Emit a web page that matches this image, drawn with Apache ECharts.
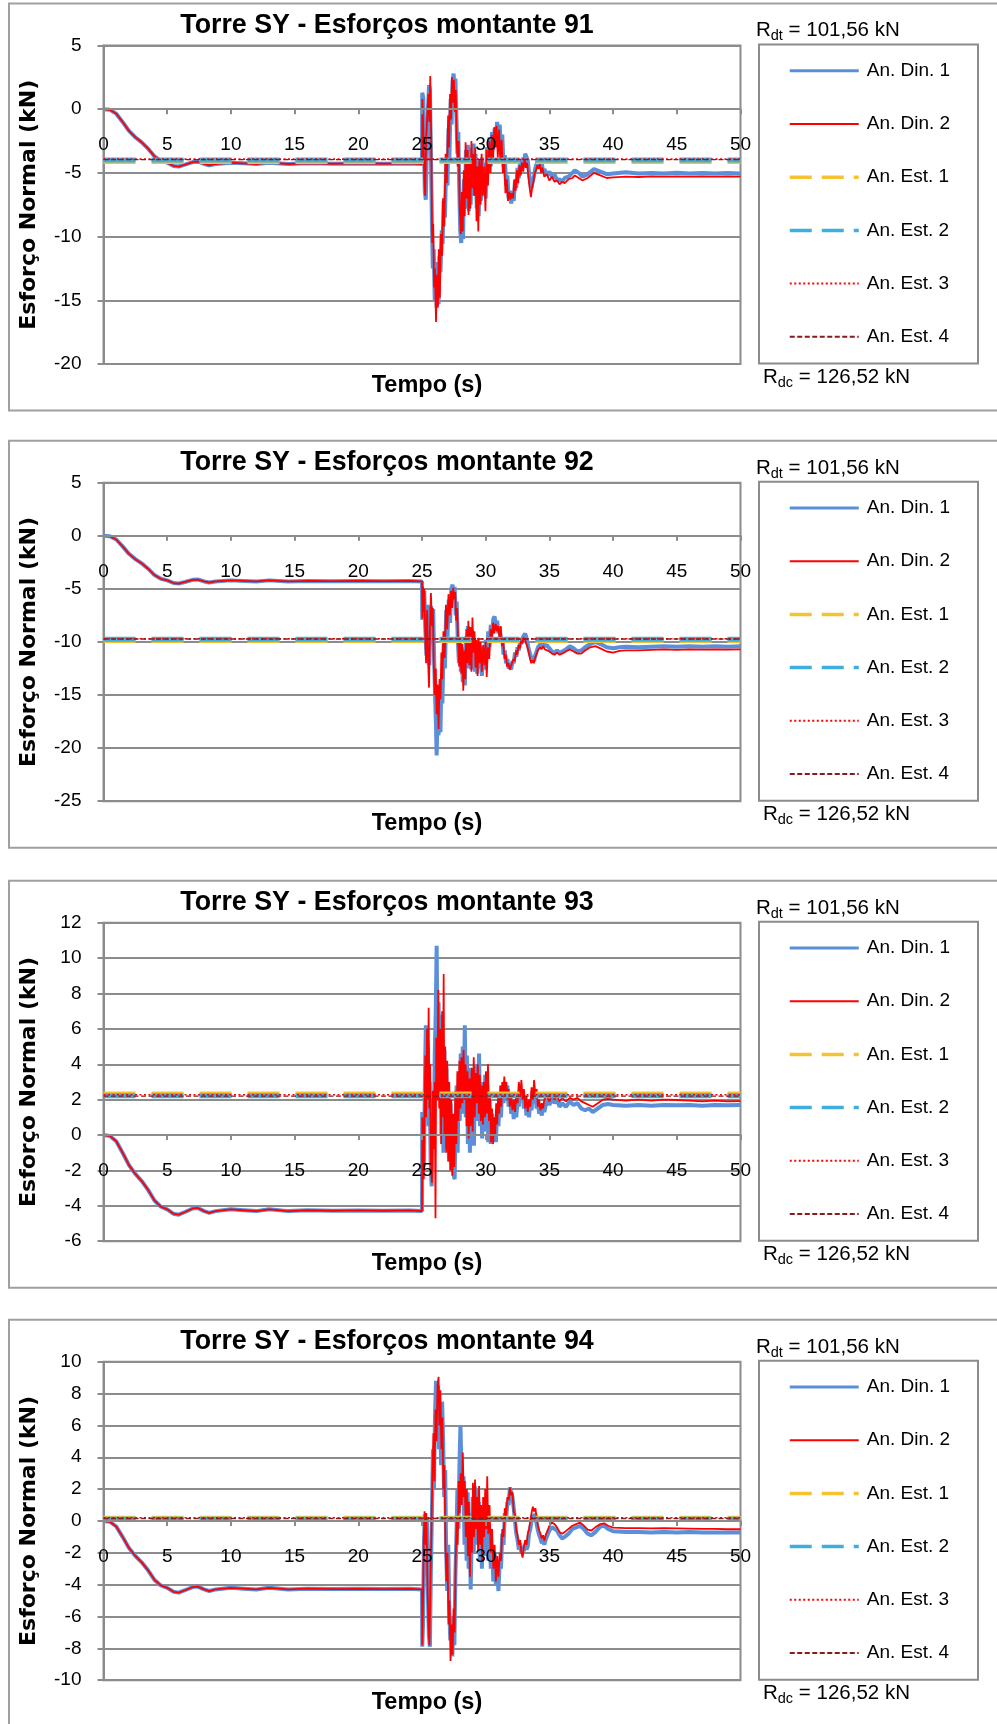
<!DOCTYPE html>
<html>
<head>
<meta charset="utf-8">
<script src="https://cdn.jsdelivr.net/npm/echarts@6/dist/echarts.min.js"></script>
<style>
html,body{margin:0;padding:0;background:#fff;}
#chart{width:997px;height:1724px;}
</style>
</head>
<body>
<div id="chart"></div>
<script>
// Normal force in tower SY legs 91-94: time (s) vs axial force (kN)
const seriesNames = ['An. Din. 1', 'An. Din. 2', 'An. Est. 1', 'An. Est. 2', 'An. Est. 3', 'An. Est. 4'];
const panelTitles = ['Torre SY - Esforços montante 91', 'Torre SY - Esforços montante 92',
                     'Torre SY - Esforços montante 93', 'Torre SY - Esforços montante 94'];
const xAxisTitle = 'Tempo (s)';
const yAxisTitle = 'Esforço Normal (kN)';
const rdtLabel = ['R', 'dt', ' = 101,56 kN'];
const rdcLabel = ['R', 'dc', ' = 126,52 kN'];
// [min, max, step] of each vertical axis, and of the time axis
const yRanges = [[-20, 5, 5], [-25, 5, 5], [-6, 12, 2], [-10, 10, 2]];
const xRange = [0, 50, 5];

// self-weight loading phase, identical in the four legs (0-25 s)
const preEvent = [[0,0],[0.5,-0.05],[1,-0.35],[1.5,-1.0],[2,-1.7],[2.5,-2.2],[3,-2.6],[3.5,-3.1],[4,-3.7],
  [4.5,-4.05],[5,-4.2],[5.5,-4.45],[5.9,-4.5],[6.4,-4.35],[7,-4.15],[7.4,-4.12],[7.9,-4.3],[8.3,-4.4],
  [8.8,-4.3],[10,-4.2],[11,-4.25],[12,-4.3],[13,-4.2],[14.5,-4.3],[16,-4.25],[18,-4.28],[20,-4.26],
  [22,-4.28],[24,-4.26],[25,-4.3]];

// leg 91
const m91Din1 = [[25.02,1.3],[25.1,0.9],[25.15,-2.5],[25.22,-6.5],[25.3,-7.1],[25.38,-3.0],[25.45,-0.5],[25.55,1.9],
  [25.62,1.5],[25.7,-3.5],[25.78,-9.0],[25.85,-12.5],[25.92,-11.0],[26.0,-15.0],[26.08,-13.5],[26.15,-15.6],
  [26.22,-12.0],[26.3,-15.3],[26.38,-11.5],[26.45,-12.8],[26.55,-9.5],[26.62,-10.6],[26.7,-7.2],[26.8,-8.5],
  [26.9,-4.2],[27.0,-6.0],[27.08,-1.5],[27.15,-3.8],[27.25,0.8],[27.32,-1.2],[27.4,2.2],[27.48,2.8],[27.55,1.6],
  [27.62,2.4],[27.7,-0.5],[27.78,-3.5],[27.85,-1.8],[27.92,-6.0],[28.0,-9.5],[28.08,-10.5],[28.15,-8.0],
  [28.22,-10.2],[28.3,-5.5],[28.38,-7.8],[28.45,-3.2],[28.52,-6.5],[28.6,-2.8],[28.68,-8.0],[28.75,-4.5],
  [28.82,-7.5],[28.9,-3.0],[28.98,-6.8],[29.05,-2.7],[29.12,-5.5],[29.2,-3.5],[29.3,-7.8],[29.38,-4.0],
  [29.45,-8.4],[29.55,-5.0],[29.62,-7.2],[29.7,-3.8],[29.8,-6.5],[29.9,-4.2],[30.0,-7.0],[30.1,-3.0],[30.2,-5.0],
  [30.3,-2.2],[30.4,-4.5],[30.5,-1.8],[30.6,-3.2],[30.7,-1.5],[30.8,-2.2],[30.9,-1.0],[31.0,-2.5],[31.1,-1.2],
  [31.2,-3.5],[31.3,-2.0],[31.4,-4.5],[31.5,-3.6],[31.6,-6.0],[31.7,-5.2],[31.8,-7.0],[31.9,-6.4],[32.0,-7.4],
  [32.1,-6.8],[32.2,-7.2],[32.3,-5.6],[32.4,-6.2],[32.5,-4.6],[32.6,-5.4],[32.7,-4.0],[32.8,-4.8],[32.9,-3.8],
  [33.0,-4.2],[33.1,-3.5],[33.2,-3.4],[33.3,-4.0],[33.4,-5.0],[33.5,-5.8],[33.6,-6.2],[33.7,-5.6],[33.8,-5.2],
  [33.9,-4.6],[34.0,-4.3],[34.1,-4.0],[34.2,-4.1],[34.3,-4.6],[34.4,-4.2],[34.5,-4.9],[34.6,-4.7],[34.8,-5.2],
  [35.0,-4.9],[35.2,-5.3],[35.4,-5.1],[35.6,-5.6],[35.8,-5.5],[36.0,-5.7],[36.2,-5.4],[36.5,-5.3],[36.8,-5.0],
  [37.0,-4.8],[37.3,-5.0],[37.6,-5.3],[38.0,-5.1],[38.5,-4.7],[39.0,-4.9],[39.5,-5.1],[40,-5.05],[41,-4.95],
  [42,-5.05],[43,-5.0],[44,-5.05],[45,-4.98],[46,-5.05],[47,-5.0],[48,-5.05],[49,-5.0],[50,-5.05]];
const m91Din2 = [[25.03,0.8],[25.1,-1.5],[25.18,-5.5],[25.25,-6.8],[25.32,-2.5],[25.4,-0.8],[25.5,1.2],[25.58,-1.0],
  [25.65,2.6],[25.72,-2.0],[25.8,-10.5],[25.88,-9.0],[25.95,-14.0],[26.02,-12.5],[26.1,-16.7],[26.18,-13.0],
  [26.25,-15.5],[26.32,-11.0],[26.4,-14.8],[26.48,-9.8],[26.58,-11.5],[26.65,-7.0],[26.75,-9.2],[26.85,-3.5],
  [26.95,-5.8],[27.05,-0.5],[27.12,-3.0],[27.2,1.2],[27.28,-0.8],[27.35,2.5],[27.42,0.5],[27.5,2.3],[27.58,-0.2],
  [27.65,1.5],[27.72,-2.2],[27.8,-4.5],[27.88,-2.5],[27.95,-7.5],[28.05,-9.8],[28.12,-6.5],[28.2,-9.6],
  [28.28,-4.8],[28.35,-8.4],[28.42,-2.6],[28.5,-7.0],[28.58,-3.2],[28.65,-8.3],[28.72,-3.8],[28.8,-7.8],
  [28.88,-2.5],[28.95,-6.2],[29.02,-3.5],[29.1,-6.8],[29.18,-3.0],[29.28,-8.8],[29.35,-4.5],[29.42,-9.6],
  [29.5,-4.0],[29.6,-7.5],[29.68,-3.5],[29.78,-6.8],[29.88,-4.5],[29.98,-8.0],[30.08,-3.2],[30.18,-6.0],
  [30.28,-2.5],[30.38,-5.0],[30.48,-2.0],[30.58,-4.0],[30.68,-1.4],[30.78,-3.0],[30.85,-1.3],[30.95,-3.8],
  [31.05,-1.6],[31.15,-4.2],[31.25,-2.4],[31.35,-5.0],[31.45,-4.0],[31.55,-6.6],[31.65,-5.5],[31.75,-7.2],
  [31.85,-6.5],[31.95,-7.1],[32.05,-6.6],[32.15,-7.0],[32.25,-5.5],[32.35,-6.4],[32.45,-4.8],[32.55,-5.8],
  [32.65,-4.4],[32.75,-5.2],[32.85,-4.2],[32.95,-4.9],[33.05,-3.9],[33.15,-4.6],[33.25,-4.2],[33.35,-5.3],
  [33.45,-6.2],[33.55,-6.9],[33.65,-6.1],[33.75,-5.7],[33.85,-5.0],[33.95,-4.8],[34.05,-4.4],[34.15,-4.7],
  [34.25,-4.3],[34.35,-5.0],[34.45,-4.6],[34.6,-5.3],[34.8,-5.1],[35.0,-5.6],[35.2,-5.3],[35.4,-5.7],[35.6,-5.6],
  [35.8,-5.9],[36.0,-5.7],[36.2,-5.8],[36.5,-5.5],[36.8,-5.4],[37.0,-5.2],[37.3,-5.4],[37.6,-5.6],[38.0,-5.4],
  [38.5,-5.0],[39.0,-5.2],[39.5,-5.4],[40,-5.35],[41,-5.3],[42,-5.32],[43,-5.28],[44,-5.3],[45,-5.27],[46,-5.3],
  [47,-5.28],[48,-5.3],[49,-5.27],[50,-5.3]];
const m91Est = [-4.08, -3.98, -3.92, -3.96];

// leg 92
const m92Din1 = [[25.02,-7.9],[25.1,-7.6],[25.18,-5.2],[25.25,-8.5],[25.35,-11.3],[25.42,-6.5],[25.5,-9.8],
  [25.58,-12.2],[25.65,-7.5],[25.72,-6.6],[25.8,-9.0],[25.88,-6.9],[25.95,-11.5],[26.02,-14.8],[26.1,-18.0],
  [26.15,-20.7],[26.22,-16.5],[26.3,-18.8],[26.38,-15.0],[26.45,-18.5],[26.52,-13.5],[26.6,-15.8],[26.7,-10.2],
  [26.8,-12.5],[26.9,-7.0],[27.0,-9.5],[27.1,-6.0],[27.2,-8.2],[27.3,-5.0],[27.4,-4.6],[27.48,-5.5],[27.56,-4.8],
  [27.65,-7.5],[27.72,-6.2],[27.8,-9.5],[27.9,-12.0],[27.98,-10.0],[28.05,-12.8],[28.12,-10.5],[28.2,-13.8],
  [28.28,-11.0],[28.36,-14.1],[28.45,-9.5],[28.52,-12.5],[28.6,-8.5],[28.68,-11.8],[28.76,-9.0],[28.85,-12.6],
  [28.92,-8.8],[29.0,-11.5],[29.08,-9.6],[29.16,-12.8],[29.25,-10.2],[29.33,-13.0],[29.42,-10.0],[29.5,-12.5],
  [29.6,-10.4],[29.7,-13.2],[29.8,-10.8],[29.9,-12.6],[30.0,-9.8],[30.1,-11.5],[30.2,-9.0],[30.3,-10.5],
  [30.4,-8.4],[30.5,-9.2],[30.6,-7.8],[30.7,-7.6],[30.8,-8.6],[30.9,-8.0],[31.0,-9.2],[31.1,-8.6],[31.2,-10.0],
  [31.3,-9.6],[31.4,-11.2],[31.5,-10.8],[31.6,-12.0],[31.7,-11.6],[31.8,-12.5],[31.9,-12.2],[32.0,-12.6],
  [32.1,-11.8],[32.2,-12.0],[32.3,-11.0],[32.4,-11.4],[32.5,-10.5],[32.6,-10.8],[32.7,-10.0],[32.8,-10.2],
  [32.9,-9.6],[33.0,-9.4],[33.1,-9.2],[33.2,-9.6],[33.3,-10.2],[33.4,-10.8],[33.5,-11.2],[33.6,-11.6],
  [33.7,-11.4],[33.8,-11.8],[33.9,-11.2],[34.0,-10.9],[34.1,-10.5],[34.2,-10.6],[34.3,-10.2],[34.4,-10.4],
  [34.5,-10.1],[34.6,-10.4],[34.8,-10.3],[35.0,-10.6],[35.2,-10.9],[35.4,-11.0],[35.6,-10.8],[35.8,-11.0],
  [36.0,-10.9],[36.3,-10.7],[36.6,-10.4],[36.9,-10.6],[37.2,-10.9],[37.5,-10.8],[37.8,-10.5],[38.2,-10.2],
  [38.6,-10.0],[39.0,-10.2],[39.5,-10.5],[40.0,-10.6],[40.5,-10.5],[41,-10.45],[42,-10.5],[43,-10.45],
  [44,-10.4],[45,-10.45],[46,-10.4],[47,-10.45],[48,-10.4],[49,-10.45],[50,-10.4]];
const m92Din2 = [[25.03,-7.8],[25.08,-4.8],[25.12,-7.2],[25.18,-5.0],[25.25,-9.0],[25.32,-12.0],[25.4,-7.0],
  [25.48,-11.8],[25.55,-14.3],[25.62,-9.0],[25.7,-5.4],[25.78,-8.5],[25.85,-6.8],[25.92,-12.0],[26.0,-15.0],
  [26.08,-12.5],[26.15,-16.8],[26.22,-14.0],[26.3,-18.2],[26.38,-13.5],[26.45,-15.4],[26.52,-11.0],[26.6,-13.5],
  [26.68,-9.0],[26.78,-11.5],[26.88,-6.5],[26.98,-8.8],[27.08,-5.5],[27.18,-7.5],[27.28,-5.2],[27.36,-6.8],
  [27.45,-4.9],[27.52,-6.0],[27.6,-5.3],[27.68,-8.0],[27.76,-6.8],[27.85,-10.5],[27.92,-12.3],[28.0,-9.6],
  [28.08,-13.0],[28.16,-10.2],[28.24,-14.6],[28.32,-10.8],[28.4,-13.5],[28.48,-8.8],[28.56,-12.0],[28.64,-8.0],
  [28.72,-12.2],[28.8,-8.6],[28.88,-12.8],[28.96,-7.7],[29.04,-11.0],[29.12,-9.0],[29.2,-12.4],[29.28,-9.8],
  [29.36,-13.2],[29.44,-9.6],[29.52,-12.0],[29.6,-10.0],[29.7,-12.8],[29.8,-10.3],[29.9,-12.2],[30.0,-10.0],
  [30.08,-13.3],[30.18,-10.5],[30.28,-11.6],[30.38,-8.8],[30.48,-10.0],[30.58,-8.2],[30.68,-9.2],[30.78,-8.3],
  [30.88,-9.0],[30.98,-8.5],[31.08,-9.6],[31.18,-8.5],[31.28,-10.4],[31.38,-10.0],[31.48,-11.6],[31.58,-11.2],
  [31.68,-12.3],[31.78,-12.0],[31.88,-12.6],[31.98,-12.3],[32.08,-12.4],[32.18,-11.6],[32.28,-11.8],
  [32.38,-10.8],[32.48,-11.2],[32.58,-10.3],[32.68,-10.6],[32.78,-9.9],[32.88,-10.1],[32.98,-9.6],[33.08,-9.8],
  [33.18,-9.9],[33.28,-10.5],[33.38,-11.0],[33.48,-11.6],[33.58,-12.0],[33.68,-11.7],[33.78,-12.0],
  [33.88,-11.5],[33.98,-11.2],[34.08,-10.8],[34.18,-10.9],[34.28,-10.5],[34.38,-10.7],[34.5,-10.4],
  [34.65,-10.7],[34.8,-10.6],[35.0,-10.9],[35.2,-11.1],[35.4,-11.2],[35.6,-11.0],[35.8,-11.2],[36.0,-11.1],
  [36.3,-10.9],[36.6,-10.7],[36.9,-10.9],[37.2,-11.1],[37.5,-11.1],[37.8,-10.8],[38.2,-10.5],[38.6,-10.4],
  [39.0,-10.6],[39.5,-10.9],[40.0,-11.0],[40.5,-10.85],[41,-10.8],[42,-10.8],[43,-10.75],[44,-10.7],
  [45,-10.75],[46,-10.7],[47,-10.72],[48,-10.7],[49,-10.72],[50,-10.7]];
const m92Est = [-9.85, -9.75, -9.7, -9.72];

// leg 93
const m93Din1 = [[25.02,1.3],[25.08,0.8],[25.15,-1.8],[25.22,2.5],[25.3,6.2],[25.38,3.5],[25.45,5.0],[25.52,0.5],
  [25.6,3.0],[25.68,-1.5],[25.76,-2.9],[25.84,1.5],[25.92,-0.5],[26.0,4.5],[26.08,7.0],[26.15,10.7],[26.22,5.0],
  [26.3,7.5],[26.38,2.0],[26.45,6.8],[26.52,0.0],[26.6,5.5],[26.68,-1.0],[26.76,4.8],[26.84,0.5],[26.92,3.8],
  [27.0,-0.8],[27.08,2.5],[27.16,-1.5],[27.24,1.8],[27.32,-2.0],[27.4,0.8],[27.48,-2.2],[27.56,-2.5],[27.64,0.5],
  [27.72,2.8],[27.8,-1.0],[27.88,3.5],[27.96,0.8],[28.04,4.6],[28.12,1.2],[28.2,5.0],[28.28,2.5],[28.36,6.2],
  [28.44,1.0],[28.52,4.5],[28.6,-0.5],[28.68,3.8],[28.76,-1.0],[28.84,3.0],[28.92,0.0],[29.0,3.5],[29.08,-0.6],
  [29.16,4.0],[29.24,0.8],[29.32,3.2],[29.4,1.5],[29.48,4.6],[29.56,0.5],[29.64,3.0],[29.72,-0.2],[29.8,2.5],
  [29.88,0.2],[29.96,3.4],[30.04,0.5],[30.12,2.8],[30.2,-0.4],[30.3,2.0],[30.4,-0.5],[30.5,1.2],[30.6,-0.2],
  [30.7,0.8],[30.8,-0.4],[30.9,1.5],[31.0,0.5],[31.1,2.2],[31.2,1.0],[31.3,2.8],[31.4,1.8],[31.5,3.0],[31.6,2.2],
  [31.7,2.8],[31.8,1.6],[31.9,2.4],[32.0,1.2],[32.1,1.8],[32.2,0.9],[32.3,1.5],[32.4,1.0],[32.5,2.0],[32.6,1.6],
  [32.7,2.6],[32.8,2.0],[32.9,2.4],[33.0,1.5],[33.1,2.0],[33.2,1.1],[33.3,1.6],[33.4,1.0],[33.5,1.9],[33.6,1.4],
  [33.7,2.5],[33.8,1.8],[33.9,2.3],[34.0,1.5],[34.1,1.8],[34.2,1.2],[34.3,1.5],[34.4,1.1],[34.5,1.6],[34.6,1.3],
  [34.8,2.0],[35.0,1.7],[35.2,2.1],[35.4,1.8],[35.6,2.0],[35.8,1.6],[36.0,1.8],[36.3,1.6],[36.6,1.9],[36.9,1.7],
  [37.2,1.8],[37.5,1.5],[37.8,1.4],[38.1,1.5],[38.4,1.3],[38.8,1.5],[39.2,1.7],[39.6,1.75],[40,1.7],[41,1.65],
  [42,1.7],[43,1.65],[44,1.7],[45,1.68],[46,1.7],[47,1.65],[48,1.7],[49,1.68],[50,1.7]];
const m93Din2 = [[25.03,1.0],[25.08,-0.5],[25.14,-2.5],[25.2,1.5],[25.26,4.5],[25.32,1.0],[25.4,6.0],[25.46,2.0],
  [25.52,7.2],[25.58,1.5],[25.64,4.0],[25.7,-1.5],[25.78,-2.7],[25.85,2.5],[25.92,-0.8],[26.0,3.0],[26.06,-4.7],
  [26.12,5.5],[26.2,2.0],[26.28,8.2],[26.35,1.5],[26.42,6.0],[26.5,-0.5],[26.58,7.0],[26.64,1.0],[26.7,9.1],
  [26.76,0.0],[26.82,5.0],[26.9,-1.0],[26.98,4.2],[27.06,-1.5],[27.14,3.0],[27.22,-2.0],[27.3,2.0],[27.38,-2.3],
  [27.46,1.2],[27.54,-1.8],[27.62,2.5],[27.7,-0.5],[27.78,3.6],[27.86,0.8],[27.94,4.2],[28.02,1.5],[28.1,4.4],
  [28.18,1.8],[28.26,4.8],[28.34,2.0],[28.42,4.0],[28.5,0.5],[28.58,3.6],[28.66,-0.2],[28.74,3.2],[28.82,0.5],
  [28.9,3.8],[28.98,0.2],[29.06,4.4],[29.14,1.0],[29.22,3.5],[29.3,1.8],[29.38,4.0],[29.46,1.2],[29.54,3.4],
  [29.62,0.8],[29.7,2.8],[29.78,0.6],[29.86,3.0],[29.94,1.0],[30.02,3.6],[30.1,1.2],[30.18,4.0],[30.26,0.8],
  [30.34,2.2],[30.42,-0.4],[30.5,1.5],[30.58,-0.5],[30.66,1.0],[30.74,0.0],[30.82,1.8],[30.9,0.6],[30.98,2.4],
  [31.06,1.2],[31.14,2.8],[31.22,1.6],[31.3,3.0],[31.38,2.2],[31.46,3.3],[31.54,2.4],[31.62,3.0],[31.7,2.0],
  [31.8,2.6],[31.9,1.6],[32.0,2.2],[32.1,1.4],[32.2,2.0],[32.3,1.3],[32.4,2.4],[32.5,1.8],[32.6,3.0],[32.7,2.2],
  [32.8,3.1],[32.9,2.0],[33.0,2.6],[33.1,1.5],[33.2,2.2],[33.3,1.3],[33.4,2.0],[33.5,1.6],[33.6,2.7],[33.7,2.0],
  [33.8,3.1],[33.9,2.2],[34.0,2.6],[34.1,1.6],[34.2,2.0],[34.3,1.4],[34.4,1.8],[34.5,1.5],[34.6,2.0],[34.8,2.2],
  [35.0,1.9],[35.2,2.3],[35.4,2.0],[35.6,2.2],[35.8,1.9],[36.0,2.1],[36.3,1.9],[36.6,2.1],[36.9,2.0],[37.2,2.1],
  [37.5,1.9],[37.8,1.8],[38.1,1.7],[38.4,1.6],[38.8,1.8],[39.2,2.0],[39.6,2.05],[40,2.0],[41,1.95],[42,2.0],
  [43,1.95],[44,2.0],[45,1.98],[46,1.95],[47,1.9],[48,1.95],[49,1.9],[50,1.92]];
const m93Est = [2.3, 2.22, 2.28, 2.2];

// leg 94
const m94Din1 = [[25.02,-7.9],[25.08,-6.5],[25.15,-1.5],[25.22,0.4],[25.3,-2.0],[25.38,0.2],[25.46,-4.5],
  [25.54,-7.2],[25.62,-7.9],[25.7,-3.0],[25.78,0.5],[25.86,4.5],[25.94,2.0],[26.02,6.5],[26.1,8.8],[26.18,6.0],
  [26.26,8.5],[26.34,4.5],[26.42,7.0],[26.5,3.5],[26.58,7.5],[26.66,5.0],[26.74,1.5],[26.82,3.2],[26.9,-2.0],
  [26.98,-4.4],[27.06,-1.5],[27.14,-5.5],[27.22,-7.5],[27.3,-6.0],[27.38,-8.5],[27.46,-6.5],[27.54,-7.8],
  [27.62,-3.5],[27.7,-1.0],[27.78,2.0],[27.86,-0.5],[27.94,3.5],[28.02,6.0],[28.1,3.0],[28.18,1.0],[28.26,2.8],
  [28.34,-1.5],[28.42,1.5],[28.5,-2.5],[28.58,1.8],[28.66,-3.0],[28.74,0.5],[28.82,-4.3],[28.9,-1.0],[28.98,1.5],
  [29.06,-2.0],[29.14,2.2],[29.22,-1.5],[29.3,2.0],[29.38,-0.5],[29.46,1.2],[29.54,-2.5],[29.62,0.5],[29.7,-3.0],
  [29.78,0.0],[29.86,-2.2],[29.94,1.0],[30.02,-1.8],[30.1,0.8],[30.2,-2.5],[30.3,-0.5],[30.4,-3.0],[30.5,-1.5],
  [30.6,-3.8],[30.7,-2.0],[30.8,-4.0],[30.9,-3.0],[31.0,-4.4],[31.1,-2.5],[31.2,-3.0],[31.3,-0.8],[31.4,-1.5],
  [31.5,0.5],[31.6,0.0],[31.7,1.2],[31.8,1.0],[31.9,2.1],[32.0,1.8],[32.1,1.5],[32.2,0.8],[32.3,0.0],[32.4,-0.8],
  [32.5,-1.2],[32.6,-1.8],[32.7,-1.4],[32.8,-2.0],[32.9,-1.6],[33.0,-1.9],[33.1,-1.5],[33.2,-1.8],[33.3,-1.6],
  [33.4,-0.8],[33.5,-0.5],[33.6,0.0],[33.7,0.3],[33.8,0.2],[33.9,0.4],[34.0,-0.2],[34.1,-0.6],[34.2,-0.9],
  [34.3,-1.1],[34.4,-1.4],[34.5,-1.2],[34.6,-1.5],[34.7,-1.2],[34.8,-1.0],[35.0,-0.6],[35.2,-0.4],[35.4,-0.5],
  [35.6,-0.6],[35.8,-0.9],[36.0,-1.1],[36.2,-1.0],[36.5,-0.8],[36.8,-0.5],[37.1,-0.4],[37.4,-0.3],[37.7,-0.5],
  [38.0,-0.8],[38.3,-0.9],[38.6,-0.7],[39.0,-0.35],[39.3,-0.3],[39.6,-0.5],[40,-0.65],[41,-0.7],[42,-0.7],
  [43,-0.72],[44,-0.7],[45,-0.72],[46,-0.7],[47,-0.73],[48,-0.72],[49,-0.73],[50,-0.72]];
const m94Din2 = [[25.02,-7.8],[25.08,-5.0],[25.14,-1.0],[25.2,0.6],[25.26,-1.5],[25.34,0.5],[25.42,-3.5],
  [25.5,-6.5],[25.58,-7.8],[25.66,-4.0],[25.74,-0.5],[25.82,3.0],[25.9,5.5],[25.98,2.5],[26.06,7.0],[26.14,5.0],
  [26.22,8.5],[26.3,9.05],[26.36,6.0],[26.44,8.2],[26.52,4.5],[26.6,6.5],[26.68,2.0],[26.76,3.5],[26.84,-1.5],
  [26.92,-3.8],[27.0,-2.0],[27.08,-6.5],[27.16,-5.0],[27.24,-8.8],[27.32,-6.5],[27.4,-8.4],[27.48,-5.5],
  [27.56,-7.0],[27.64,-2.5],[27.72,0.0],[27.8,-1.5],[27.88,2.5],[27.96,0.5],[28.04,3.0],[28.12,1.0],[28.2,4.3],
  [28.28,1.5],[28.36,2.5],[28.44,-1.0],[28.52,2.0],[28.6,-2.2],[28.68,1.2],[28.76,-3.5],[28.84,0.0],[28.92,-2.0],
  [29.0,2.4],[29.08,-1.0],[29.16,2.6],[29.24,-0.5],[29.32,1.5],[29.4,-1.8],[29.48,2.2],[29.56,-1.5],[29.64,1.0],
  [29.72,-2.5],[29.8,1.5],[29.88,-1.0],[29.96,2.0],[30.04,-0.5],[30.12,2.8],[30.2,-0.8],[30.3,1.0],[30.4,-2.0],
  [30.5,-0.5],[30.6,-3.0],[30.7,-1.5],[30.8,-3.8],[30.9,-2.2],[31.0,-3.5],[31.1,-2.0],[31.2,-2.5],[31.3,-0.5],
  [31.4,-1.0],[31.5,0.8],[31.6,0.3],[31.7,1.5],[31.8,1.3],[31.9,2.1],[32.0,1.6],[32.1,1.8],[32.2,0.6],[32.3,0.4],
  [32.4,-0.6],[32.5,-0.9],[32.6,-1.5],[32.7,-1.2],[32.8,-2.0],[32.9,-2.3],[33.0,-1.6],[33.1,-1.2],[33.2,-1.5],
  [33.3,-0.8],[33.4,-0.5],[33.5,0.0],[33.6,0.5],[33.7,0.9],[33.8,0.6],[33.9,0.8],[34.0,0.2],[34.1,-0.3],
  [34.2,-0.6],[34.3,-0.8],[34.4,-1.1],[34.5,-0.9],[34.6,-1.25],[34.7,-0.9],[34.8,-0.7],[35.0,-0.3],[35.2,-0.1],
  [35.4,-0.2],[35.6,-0.4],[35.8,-0.7],[36.0,-0.8],[36.2,-0.7],[36.5,-0.5],[36.8,-0.3],[37.1,-0.2],[37.4,-0.1],
  [37.7,-0.3],[38.0,-0.55],[38.3,-0.6],[38.6,-0.4],[39.0,-0.2],[39.3,-0.15],[39.6,-0.3],[40,-0.42],[41,-0.45],
  [42,-0.45],[43,-0.46],[44,-0.45],[45,-0.46],[46,-0.48],[47,-0.5],[48,-0.5],[49,-0.52],[50,-0.52]];
const m94Est = [0.15, 0.1, 0.2, 0.15];

const legs = [
  { din1: m91Din1, din2: m91Din2, est: m91Est },
  { din1: m92Din1, din2: m92Din2, est: m92Est },
  { din1: m93Din1, din2: m93Din2, est: m93Est },
  { din1: m94Din1, din2: m94Din2, est: m94Est }
];

// ---- layout and styling ----
const FONT = '"Liberation Sans", Arial, sans-serif';
const GRID_COLOR = '#8c8c8c';
const FRAME_COLOR = '#a0a0a0';
const PLOT_LEFT = 103.5, PLOT_WIDTH = 637, PLOT_HEIGHT = 318.5;
const plotTops = [45.5, 482.7, 922.7, 1361.7];

const lineStyles = [
  { color: '#5b8fd9', width: 4, type: 'solid' },
  { color: '#ff0000', width: 1.8, type: 'solid' },
  { color: '#f5c232', width: 5.5, type: [32, 16] },
  { color: '#3eaedc', width: 5, type: [32, 16] },
  { color: '#ff0000', width: 1.6, type: [2, 2.5] },
  { color: '#8b1a1a', width: 1.4, type: [5, 2.5] }
];
// shorter dash pattern for the legend samples of the two dashed static lines
const legendDash = [22, 10];

const grids = [], xAxes = [], yAxes = [], series = [], legends = [], titles = [], graphics = [];

plotTops.forEach((top, i) => {
  const yr = yRanges[i];
  // the time axis runs along the zero force line
  const zeroFromBottom = PLOT_HEIGHT * (0 - yr[0]) / (yr[1] - yr[0]);
  grids.push({
    left: PLOT_LEFT, top: top, width: PLOT_WIDTH, height: PLOT_HEIGHT,
    containLabel: false, outerBoundsMode: 'none',
    show: true, borderColor: GRID_COLOR, borderWidth: 2, backgroundColor: 'transparent'
  });
  xAxes.push({
    gridIndex: i, type: 'value', min: xRange[0], max: xRange[1], interval: xRange[2],
    position: 'bottom', offset: -zeroFromBottom, z: 20,
    axisLine: { onZero: false, lineStyle: { color: GRID_COLOR, width: 2 } },
    axisTick: { show: true, inside: false, length: 5, lineStyle: { color: GRID_COLOR, width: 2 } },
    axisLabel: { color: '#000', fontSize: 19, fontFamily: FONT, margin: 26, showMinLabel: true, showMaxLabel: true },
    splitLine: { show: false }
  });
  yAxes.push({
    gridIndex: i, type: 'value', min: yr[0], max: yr[1], interval: yr[2],
    name: yAxisTitle, nameLocation: 'middle', nameRotate: 90, nameGap: 63,
    nameTextStyle: { fontFamily: '"DejaVu Sans", Verdana, sans-serif', fontWeight: 'bold', fontSize: 22, color: '#000' },
    axisLine: { show: true, onZero: false, lineStyle: { color: GRID_COLOR, width: 2 } },
    axisTick: { show: true, inside: false, length: 6, lineStyle: { color: GRID_COLOR, width: 2 } },
    axisLabel: { color: '#000', fontSize: 19, fontFamily: FONT, margin: 22 },
    splitLine: { show: true, lineStyle: { color: GRID_COLOR, width: 2 } }
  });

  const leg = legs[i];
  const curves = [preEvent.concat(leg.din1), preEvent.concat(leg.din2)];
  leg.est.forEach(v => curves.push([[xRange[0], v], [xRange[1], v]]));
  curves.forEach((data, k) => {
    series.push({
      name: seriesNames[k], type: 'line', xAxisIndex: i, yAxisIndex: i,
      data: data, symbol: 'none', showSymbol: false, smooth: false, silent: true,
      lineStyle: lineStyles[k], itemStyle: { color: lineStyles[k].color },
      emphasis: { disabled: true }, z: 2 + k
    });
  });

  legends.push({
    orient: 'vertical', left: 788, top: top + 15.3, padding: 0,
    itemWidth: 69, itemHeight: 14, itemGap: 33.2, selectedMode: false,
    itemStyle: { opacity: 0 },
    data: seriesNames.map((name, k) => (k === 2 || k === 3)
      ? { name: name, lineStyle: { type: legendDash, width: 3.5 } }
      : (k === 0 ? { name: name, lineStyle: { width: 3 } } : name)),
    textStyle: { color: '#000', fontSize: 19, fontFamily: FONT, lineHeight: 20, padding: [0, 0, 0, 3] }
  });

  titles.push({
    text: panelTitles[i], left: 382, top: top - 38.5, textAlign: 'center',
    textStyle: { fontFamily: FONT, fontWeight: 'bold', fontSize: 26.8, color: '#000' }
  });

  // panel frame
  graphics.push({ type: 'rect', shape: { x: 9, y: top - 42, width: 1000, height: 407 },
    style: { fill: 'transparent', stroke: FRAME_COLOR, lineWidth: 2 }, z: -10 });
  // legend frame
  graphics.push({ type: 'rect', shape: { x: 759, y: top - 1, width: 219, height: 319 },
    style: { fill: 'transparent', stroke: GRID_COLOR, lineWidth: 2 }, z: -5 });
  // horizontal axis title
  graphics.push({ type: 'text', x: 427, y: top + 340.5,
    style: { text: xAxisTitle, font: 'bold 23.5px ' + FONT, fill: '#000', align: 'center', verticalAlign: 'middle' } });
  // design strengths
  const rich = {
    r: { fontSize: 20.5, fontFamily: FONT, fill: '#000', lineHeight: 26, verticalAlign: 'middle' },
    s: { fontSize: 14.5, fontFamily: FONT, fill: '#000', lineHeight: 14, verticalAlign: 'bottom' }
  };
  graphics.push({ type: 'text', x: 756, y: top - 14.7,
    style: { text: '{r|' + rdtLabel[0] + '}{s|' + rdtLabel[1] + '}{r|' + rdtLabel[2] + '}', rich: rich,
      align: 'left', verticalAlign: 'middle' } });
  graphics.push({ type: 'text', x: 763, y: top + 331.5,
    style: { text: '{r|' + rdcLabel[0] + '}{s|' + rdcLabel[1] + '}{r|' + rdcLabel[2] + '}', rich: rich,
      align: 'left', verticalAlign: 'middle' } });
});

const chart = echarts.init(document.getElementById('chart'), null, { renderer: 'canvas' });
chart.setOption({
  animation: false,
  backgroundColor: '#ffffff',
  title: titles,
  legend: legends,
  grid: grids,
  xAxis: xAxes,
  yAxis: yAxes,
  series: series,
  graphic: graphics
});
</script>
</body>
</html>
